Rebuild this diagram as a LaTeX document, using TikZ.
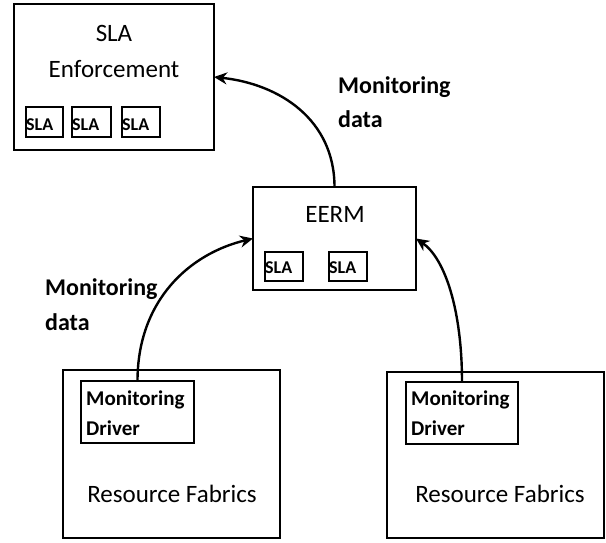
\documentclass[tikz,border=0pt]{standalone}
\usepackage{fontspec}
\setmainfont{Carlito}
\usetikzlibrary{arrows.meta}
\begin{document}
\begin{tikzpicture}[x=1pt,y=-1pt,
  box/.style={draw, line width=2.2pt, rectangle, inner sep=0pt, outer sep=0pt},
  small/.style={draw, line width=2pt, rectangle, inner sep=0pt, outer sep=0pt},
  big/.style={inner sep=0pt, font=\fontsize{25}{30}\selectfont},
  lab/.style={inner sep=0pt, anchor=base west, font=\bfseries\fontsize{24}{29}\selectfont},
  drv/.style={inner sep=0pt, anchor=base west, font=\bfseries\fontsize{21}{25}\selectfont},
  slat/.style={inner sep=0pt, anchor=base west, font=\bfseries\fontsize{18}{21}\selectfont},
  conn/.style={line width=2.4pt, -{Stealth[length=13pt,width=12pt]}}
]
\useasboundingbox (0,0) rectangle (606,542);
% SLA Enforcement
\node[box, minimum width=200pt, minimum height=146pt] (enf) at (114,77) {};
\node[big, anchor=base] (enft1) at (114,41) {SLA};
\node[big, anchor=base] (enft2) at (114,77) {Enforcement};
\node[small, minimum width=37pt, minimum height=30pt] (s1) at (44.5,122) {};
\node[small, minimum width=39pt, minimum height=30pt] (s2) at (91.5,122) {};
\node[small, minimum width=38pt, minimum height=30pt] (s3) at (141,122) {};
\node[slat] (s1t) at (26,130) {SLA};
\node[slat] (s2t) at (72,130) {SLA};
\node[slat] (s3t) at (122,130) {SLA};
% EERM
\node[box, minimum width=163pt, minimum height=103pt] (eerm) at (334.5,238.5) {};
\node[big, anchor=base] (eermt) at (335,222) {EERM};
\node[small, minimum width=38pt, minimum height=29pt] (e1) at (284,266.5) {};
\node[small, minimum width=38pt, minimum height=29pt] (e2) at (348,266.5) {};
\node[slat] (e1t) at (265,273) {SLA};
\node[slat] (e2t) at (329,273) {SLA};
% Resource fabrics left
\node[box, minimum width=217pt, minimum height=168pt] (fabL) at (171.5,454) {};
\node[small, minimum width=113pt, minimum height=62pt] (drvL) at (137.5,412) {};
\node[drv] (drvLt1) at (86,405) {Monitoring};
\node[drv] (drvLt2) at (86,435) {Driver};
\node[big, anchor=base] (fabLt) at (172,502) {Resource Fabrics};
% Resource fabrics right
\node[box, minimum width=217pt, minimum height=166pt] (fabR) at (495.5,455) {};
\node[small, minimum width=112pt, minimum height=62pt] (drvR) at (462,413) {};
\node[drv] (drvRt1) at (411,405) {Monitoring};
\node[drv] (drvRt2) at (411,435) {Driver};
\node[big, anchor=base] (fabRt) at (500,502) {Resource Fabrics};
% labels
\node[lab] (l1a) at (338,93) {Monitoring};
\node[lab] (l1b) at (338,127) {data};
\node[lab] (l2a) at (45,295) {Monitoring};
\node[lab] (l2b) at (45,330) {data};
% connectors
\draw[conn] (eerm.north) .. controls +(0,-67) and +(66,7) .. (enf.east);
\draw[conn] (drvL.north) .. controls +(0,-81) and +(-63,15) .. (eerm.west);
\draw[conn] (drvR.north) .. controls +(0,-72) and +(29,20) .. (eerm.east);
\end{tikzpicture}
\end{document}
